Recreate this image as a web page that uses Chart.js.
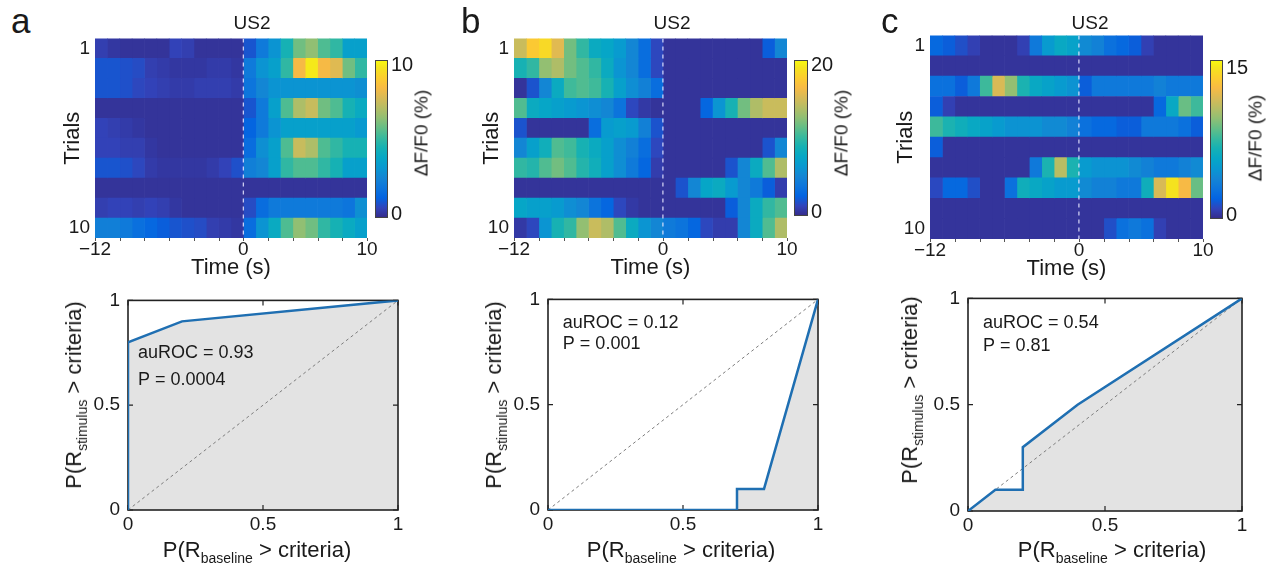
<!DOCTYPE html>
<html>
<head>
<meta charset="utf-8">
<script src="https://cdn.jsdelivr.net/npm/chart.js@4.4.0/dist/chart.umd.min.js"></script>
<style>
  body { margin: 0; background: #fff; font-family: "Liberation Sans", Arial, Helvetica, sans-serif; color: #1a1a1a; }
  #fig { position: relative; width: 1266px; height: 564px; overflow: hidden; }
  .t { position: absolute; line-height: 1; white-space: nowrap; }
  .mid { transform: translate(-50%, -50%); }
  .rot { transform: translate(-50%, -50%) rotate(-90deg); }
  .letter { font-size: 35px; }
  sub { font-size: 14px; vertical-align: -6px; line-height: 0; }
</style>
</head>
<body>
<div id="fig"></div>
<script>
// ---- data ----
const trialLabels = ["1", "2", "3", "4", "5", "6", "7", "8", "9", "10"];
const binStarts = [-12, -11, -10, -9, -8, -7, -6, -5, -4, -3, -2, -1, 0, 1, 2, 3, 4, 5, 6, 7, 8, 9];
const timeTicks = [-12, -10, -8, -6, -4, -2, 0, 2, 4, 6, 8, 10];
const timeLabeled = [-12, 0, 10];

// dF/F0 (%) per trial, 1 s bins from -12 to 10 s
const dffA = [
  [0.3, 0.1, 0, 0, 0, 0, 0.4, 0.3, 0, 0, 0, 0, 0.8, 2, 3, 4.5, 6, 6.5, 5.5, 5, 3.5, 3.5],
  [0.8, 0.8, 0.7, 0.6, 0.3, 0.2, 0.1, 0.1, 0.1, 0.2, 0.2, 0.1, 2, 3, 3.5, 5, 8.5, 10, 8.5, 8, 6, 5],
  [0.8, 0.8, 0.7, 0.5, 0.4, 0.3, 0.2, 0.2, 0.3, 0.3, 0.3, 0.2, 1.8, 2.5, 3, 3, 3, 3, 3, 3, 3, 2.8],
  [0, 0, 0, 0, 0, 0, 0, 0, 0, 0, 0, 0, 0.8, 2, 3.5, 5.5, 7, 7.5, 6, 5.5, 4.5, 4],
  [0.4, 0.3, 0.2, 0.1, 0, 0, 0, 0, 0, 0, 0, 0, 1.2, 2, 3, 3.5, 3.5, 3.5, 3.5, 3.5, 3.5, 3.2],
  [0.4, 0.4, 0.3, 0.3, 0.1, 0, 0, 0, 0, 0, 0, 0, 1.5, 2.8, 3.5, 5.5, 7.5, 7, 5.5, 5, 4.5, 4.5],
  [0.8, 0.8, 0.7, 0.5, 0.2, 0.1, 0.1, 0.1, 0.1, 0.2, 0.4, 0.7, 2.2, 2.5, 3.5, 5, 5.5, 5.5, 5, 4.5, 3.5, 3.5],
  [0, 0, 0, 0, 0, 0, 0, 0, 0, 0, 0, 0, 0, 0, 0, 0, 0, 0, 0, 0, 0, 0],
  [0.3, 0.4, 0.4, 0.3, 0.4, 0.3, 0.1, 0, 0, 0, 0, 0, 0.6, 1.5, 2, 2, 2, 2, 2, 2, 1.8, 2.8],
  [2.2, 2.2, 2, 1.6, 1.3, 1, 0.8, 0.7, 0.6, 0.3, 0.2, 0.1, 1.5, 3, 4, 5.5, 6.5, 6, 5, 4.5, 4, 3.5],
];
const dffB = [
  [15, 18, 19, 16, 12, 10, 8, 7.5, 6.5, 5, 3, 1, 0, 0, 0, 0, 0, 0, 0, 0, 2, 5],
  [9, 10, 13, 14, 12, 11, 10, 8, 6, 5, 3, 1, 0, 0, 0, 0, 0, 0, 0, 0, 0, 0],
  [0, 1.5, 5, 8, 10.5, 11, 10.5, 9, 7, 5.5, 4.5, 3, 0, 0, 0, 0, 0, 0, 0, 0, 0, 0],
  [11, 8, 7.5, 7, 6.5, 6, 5.5, 5, 3.5, 1, 0.3, 0, 0, 0, 0, 2.5, 6, 9, 12, 14, 15, 15],
  [1.5, 0, 0, 0, 0, 0, 3, 6.5, 7, 6.5, 4.5, 1.5, 0, 0, 0, 0, 0, 0, 0, 0, 0, 0],
  [5, 7, 8.5, 11, 10.5, 9, 8, 7, 5.5, 4.5, 3, 1, 0, 0, 0, 0, 0, 0, 0, 0, 1.5, 5],
  [10, 9.5, 11, 12, 11, 9.5, 8.5, 7, 5.5, 4, 2.5, 0.5, 0, 0, 0, 0, 0, 1.5, 5, 8, 11, 14],
  [0, 0, 0, 0, 0, 0, 0, 0, 0, 0, 0, 0, 0, 1.5, 5, 7.5, 8, 6.5, 5, 4, 2, 0.5],
  [7.5, 7, 7, 6.5, 5.5, 5, 3.5, 2.5, 1, 0.3, 0, 0, 0, 0, 0, 0, 0, 2, 5, 8, 10, 11],
  [0.3, 1, 6, 9, 10, 13, 15, 14, 11, 8, 6, 5, 4, 3.5, 2.5, 1, 0.5, 0.5, 5, 8, 11, 14],
];
const dffC = [
  [2, 1.5, 1, 0.5, 0, 0, 0, 0.5, 3, 5, 6, 5.5, 4, 3.5, 2.5, 2, 1.5, 0.5, 0, 0, 0, 0],
  [0, 0, 0, 0, 0, 0, 0, 0, 0, 0, 0, 0, 0, 0, 0, 0, 0, 0, 0, 0, 0, 0],
  [2.5, 2.5, 1.5, 3, 8, 12, 10, 7, 6, 5.5, 5, 4.5, 1.5, 3, 3, 3, 3, 3, 3.5, 3, 3, 3],
  [1.5, 0.5, 0, 0, 0, 0, 0, 0, 0, 0, 0, 0, 0, 0, 0, 0, 0, 0, 2, 6, 9, 8],
  [8, 7, 6.5, 6, 5.5, 5, 4.5, 4.5, 4.5, 4, 4, 3.5, 2.5, 2, 2, 1.5, 1.5, 3, 3, 3, 2.5, 1.5],
  [1.5, 0, 0, 0, 0, 0, 0, 0, 0, 0, 0, 0, 0, 0, 0, 0, 0, 0, 0, 0, 0, 0],
  [0, 0, 0, 0, 0, 0, 0, 0, 3, 7, 11, 7, 5, 4.5, 4.5, 4.5, 4, 3.5, 3, 3, 3.5, 4],
  [0.8, 2, 2, 1, 0, 0, 2.5, 6.5, 6, 5.5, 5, 5, 4, 3.5, 3.5, 3, 3, 6.5, 12, 15, 13, 9],
  [0, 0, 0, 0, 0, 0, 0, 0, 0, 0, 0, 0, 0, 0, 0, 0, 0, 0, 0, 0, 0, 0],
  [0, 0, 0, 0, 0, 0, 0, 0, 0, 0, 0, 0, 0, 0, 1, 2.5, 3, 2.5, 0.5, 0, 0, 0],
];

// colour limits and colorbar ticks
const climA = [-0.25, 10.4], cbTicksA = [0, 10];
const climB = [-0.5, 20.7], cbTicksB = [0, 20];
const climC = [-0.4, 15.9], cbTicksC = [0, 15];

// ROC curves
const rocAx = [0, 0, 0.2, 1], rocAy = [0, 0.8, 0.9, 1];
const rocBx = [0, 0.7, 0.7, 0.8, 1], rocBy = [0, 0, 0.1, 0.1, 1];
const rocCx = [0, 0.1, 0.2, 0.2, 0.4, 1], rocCy = [0, 0.1, 0.1, 0.3, 0.5, 1];
const chanceX = [0, 1], chanceY = [0, 1];
const rocTicks = [0, 0.5, 1];
const statsA = ["auROC = 0.93", "P = 0.0004"];
const statsB = ["auROC = 0.12", "P = 0.001"];
const statsC = ["auROC = 0.54", "P = 0.81"];

// ---- parula colormap ----
const parulaPos = [0, 4, 8, 12, 16, 20, 24, 28, 32, 36, 40, 44, 48, 52, 56, 60, 63].map((i) => i / 63);
const parulaRGB = [
  [0.2081, 0.1663, 0.5292], [0.1959, 0.2645, 0.7279], [0.0117, 0.3875, 0.882], [0.0498, 0.4586, 0.8641],
  [0.0793, 0.52, 0.8312], [0.0343, 0.5966, 0.8199], [0.0228, 0.6535, 0.7768], [0.0843, 0.6928, 0.7062],
  [0.2178, 0.725, 0.6193], [0.3953, 0.7459, 0.5244], [0.5709, 0.7485, 0.4494], [0.7184, 0.7411, 0.3905],
  [0.8507, 0.7299, 0.336], [0.9739, 0.7314, 0.2666], [0.988, 0.8066, 0.1794], [0.9589, 0.8949, 0.1132],
  [0.9763, 0.9831, 0.0538],
];
function rgb(c) {
  return "rgb(" + c.map((v) => Math.round(v * 255)).join(",") + ")";
}
function parula(v, clim) {
  let p = (v - clim[0]) / (clim[1] - clim[0]);
  p = Math.max(0, Math.min(1, p));
  let k = 0;
  while (k < parulaPos.length - 2 && p > parulaPos[k + 1]) k++;
  const f = (p - parulaPos[k]) / (parulaPos[k + 1] - parulaPos[k]);
  return rgb(parulaRGB[k].map((a, i) => a + (parulaRGB[k + 1][i] - a) * f));
}

Chart.defaults.font.family = '"Liberation Sans", Arial, Helvetica, sans-serif';
Chart.defaults.color = "#1a1a1a";

const fig = document.getElementById("fig");

function addCanvas(area, m) {
  const c = document.createElement("canvas");
  const w = area.r - area.l + m.left + m.right;
  const h = area.b - area.t + m.top + m.bottom;
  c.width = w;
  c.height = h;
  c.style.cssText = `position:absolute;left:${area.l - m.left}px;top:${area.t - m.top}px;width:${w}px;height:${h}px`;
  fig.appendChild(c);
  return c;
}

function addText(html, x, y, cls, size) {
  const d = document.createElement("div");
  d.className = "t " + cls;
  d.innerHTML = html;
  d.style.left = x + "px";
  d.style.top = y + "px";
  if (size) {
    d.style.fontSize = size + "px";
    d.style.height = size + "px";
  }
  fig.appendChild(d);
}

// dashed line at t = 0 and small bottom ticks
const heatDecor = {
  id: "heatDecor",
  afterDatasetsDraw(chart) {
    const { ctx, chartArea, scales } = chart;
    const x0 = scales.x.getPixelForValue(0);
    ctx.save();
    ctx.strokeStyle = "rgba(230,230,255,0.85)";
    ctx.lineWidth = 1.3;
    ctx.setLineDash([4, 4]);
    ctx.beginPath();
    ctx.moveTo(x0, chartArea.top);
    ctx.lineTo(x0, chartArea.bottom);
    ctx.stroke();
    ctx.setLineDash([]);
    ctx.strokeStyle = "#555";
    ctx.lineWidth = 1;
    timeTicks.forEach((t) => {
      const x = Math.round(scales.x.getPixelForValue(t)) + 0.5;
      ctx.beginPath();
      ctx.moveTo(x, chartArea.bottom);
      ctx.lineTo(x, chartArea.bottom + 3);
      ctx.stroke();
    });
    ctx.restore();
  },
};

function heatChart(area, dff, clim, trialsPad) {
  const m = { left: 50, top: 15, right: 20, bottom: 45 };
  const canvas = addCanvas(area, m);
  const datasets = binStarts.map((t0, j) => ({
    data: trialLabels.map(() => [t0, t0 + 1]),
    backgroundColor: dff.map((row) => parula(row[j], clim)),
    borderWidth: 0,
    barPercentage: 1,
    categoryPercentage: 1,
    grouped: false,
  }));
  new Chart(canvas, {
    type: "bar",
    data: { labels: trialLabels, datasets },
    options: {
      indexAxis: "y",
      responsive: false,
      animation: false,
      layout: { padding: { top: m.top, right: m.right, left: 0, bottom: 0 } },
      plugins: { legend: { display: false }, tooltip: { enabled: false } },
      scales: {
        x: {
          type: "linear",
          min: -12,
          max: 10,
          grid: { display: false, drawTicks: false },
          border: { display: false },
          afterBuildTicks: (s) => {
            s.ticks = timeTicks.map((v) => ({ value: v }));
          },
          ticks: {
            autoSkip: false,
            maxRotation: 0,
            padding: 0,
            font: { size: 19 },
            callback: (v) => (timeLabeled.includes(v) ? String(v).replace("-", "\u2212") : ""),
          },
          title: { display: true, text: "Time (s)", font: { size: 22 }, padding: { top: 0, bottom: 2 } },
          afterFit: (s) => {
            s.height = m.bottom;
          },
        },
        y: {
          grid: { display: false, drawTicks: false },
          border: { display: false },
          ticks: {
            autoSkip: false,
            padding: 5,
            font: { size: 19 },
            callback: (v, i) => (i === 0 || i === trialLabels.length - 1 ? trialLabels[i] : ""),
          },
          title: { display: true, text: "Trials", font: { size: 22 }, padding: { top: trialsPad, bottom: 0 } },
          afterFit: (s) => {
            s.width = m.left;
          },
        },
      },
    },
    plugins: [heatDecor],
  });
}

function colorbarChart(area, clim, ticks) {
  const m = { left: 0, top: 12, right: 35, bottom: 12 };
  const canvas = addCanvas(area, m);
  new Chart(canvas, {
    type: "scatter",
    data: { datasets: [] },
    options: {
      responsive: false,
      animation: false,
      layout: { padding: { top: m.top, bottom: m.bottom, left: 0, right: 0 } },
      plugins: { legend: { display: false }, tooltip: { enabled: false } },
      scales: {
        x: { display: false, min: 0, max: 1 },
        y: {
          position: "right",
          min: clim[0],
          max: clim[1],
          grid: { display: false, drawTicks: false },
          border: { display: false },
          afterBuildTicks: (s) => {
            s.ticks = ticks.map((v) => ({ value: v }));
          },
          ticks: { padding: 3, font: { size: 20 } },
          afterFit: (s) => {
            s.width = m.right;
          },
        },
      },
    },
    plugins: [
      {
        id: "cbar",
        beforeDatasetsDraw(chart) {
          const { ctx, chartArea: a } = chart;
          const g = ctx.createLinearGradient(0, a.bottom, 0, a.top);
          parulaPos.forEach((p, i) => g.addColorStop(p, rgb(parulaRGB[i])));
          ctx.save();
          ctx.fillStyle = g;
          ctx.fillRect(a.left, a.top, a.right - a.left, a.bottom - a.top);
          ctx.strokeStyle = "#444";
          ctx.lineWidth = 1;
          ctx.strokeRect(a.left + 0.5, a.top + 0.5, a.right - a.left - 1, a.bottom - a.top - 1);
          ctx.restore();
        },
      },
    ],
  });
}

function rocChart(area, xs, ys, stats, statsPos) {
  const m = { left: 45, top: 15, right: 20, bottom: 30 };
  const canvas = addCanvas(area, m);
  const axisCommon = {
    type: "linear",
    min: 0,
    max: 1,
    grid: { display: false, drawTicks: false },
    border: { display: false },
    afterBuildTicks: (s) => {
      s.ticks = rocTicks.map((v) => ({ value: v }));
    },
  };
  new Chart(canvas, {
    type: "scatter",
    data: {
      datasets: [
        {
          data: xs.map((x, i) => ({ x, y: ys[i] })),
          showLine: true,
          borderColor: "#1f6fb2",
          borderWidth: 2.5,
          pointRadius: 0,
          fill: "origin",
          backgroundColor: "#e3e3e3",
          order: 1,
        },
        {
          data: chanceX.map((x, i) => ({ x, y: chanceY[i] })),
          showLine: true,
          borderColor: "#7d7d7d",
          borderWidth: 1,
          borderDash: [3, 3],
          pointRadius: 0,
          fill: false,
          order: 2,
        },
      ],
    },
    options: {
      responsive: false,
      animation: false,
      layout: { padding: { top: m.top, right: m.right, left: 0, bottom: 0 } },
      plugins: {
        legend: { display: false },
        tooltip: { enabled: false },
        filler: { drawTime: "beforeDatasetsDraw" },
      },
      scales: {
        x: Object.assign({}, axisCommon, {
          ticks: { padding: 3, font: { size: 19 }, maxRotation: 0, callback: (v) => String(v) },
          afterFit: (s) => {
            s.height = m.bottom;
          },
        }),
        y: Object.assign({}, axisCommon, {
          ticks: { padding: 8, font: { size: 19 }, callback: (v) => String(v) },
          afterFit: (s) => {
            s.width = m.left;
          },
        }),
      },
    },
    plugins: [
      {
        id: "rocDecor",
        beforeDatasetsDraw(chart) {
          const { ctx, chartArea: a, scales } = chart;
          ctx.save();
          ctx.strokeStyle = "#222";
          ctx.lineWidth = 1.6;
          ctx.strokeRect(a.left, a.top, a.right - a.left, a.bottom - a.top);
          ctx.lineWidth = 1.2;
          rocTicks.forEach((v) => {
            const x = scales.x.getPixelForValue(v);
            const y = scales.y.getPixelForValue(v);
            ctx.beginPath();
            ctx.moveTo(x, a.bottom);
            ctx.lineTo(x, a.bottom - 5);
            ctx.moveTo(x, a.top);
            ctx.lineTo(x, a.top + 5);
            ctx.moveTo(a.left, y);
            ctx.lineTo(a.left + 5, y);
            ctx.moveTo(a.right, y);
            ctx.lineTo(a.right - 5, y);
            ctx.stroke();
          });
          ctx.restore();
        },
        afterDatasetsDraw(chart) {
          const { ctx, scales } = chart;
          ctx.save();
          ctx.fillStyle = "#1a1a1a";
          ctx.font = '18px "Liberation Sans", Arial, sans-serif';
          ctx.textBaseline = "middle";
          stats.forEach((s, i) => {
            ctx.fillText(s, scales.x.getPixelForValue(statsPos[0]), scales.y.getPixelForValue(statsPos[1][i]));
          });
          ctx.restore();
        },
      },
    ],
  });
}

// ---- layout of the three panels ----
const panels = [
  {
    letter: "a", letterX: 11, titleX: 252, dff: dffA, clim: climA, cbTicks: cbTicksA,
    heat: { l: 95, t: 37, r: 367, b: 238 }, trialsPad: 15,
    bar: { l: 375, t: 57, r: 388, b: 221 }, barLab: [421, 133],
    roc: { l: 128, t: 296, r: 398, b: 510 }, rx: rocAx, ry: rocAy, stats: statsA, statsPos: [0.037, [0.75, 0.62]],
    xlab: [257, 550], ylab: [74, 395],
  },
  {
    letter: "b", letterX: 461, titleX: 672, dff: dffB, clim: climB, cbTicks: cbTicksB,
    heat: { l: 514, t: 37, r: 787, b: 238 }, trialsPad: 15,
    bar: { l: 794, t: 57, r: 808, b: 219 }, barLab: [841, 133],
    roc: { l: 548, t: 295, r: 818, b: 510 }, rx: rocBx, ry: rocBy, stats: statsB, statsPos: [0.055, [0.89, 0.79]],
    xlab: [681, 550], ylab: [494, 395],
  },
  {
    letter: "c", letterX: 881, titleX: 1090, dff: dffC, clim: climC, cbTicks: cbTicksC,
    heat: { l: 930, t: 34, r: 1203, b: 239 }, trialsPad: 13,
    bar: { l: 1210, t: 57, r: 1223, b: 222 }, barLab: [1255, 138],
    roc: { l: 968, t: 294, r: 1242, b: 511 }, rx: rocCx, ry: rocCy, stats: statsC, statsPos: [0.055, [0.885, 0.777]],
    xlab: [1112, 550], ylab: [910, 390],
  },
];

panels.forEach((p) => {
  heatChart(p.heat, p.dff, p.clim, p.trialsPad);
  colorbarChart(p.bar, p.clim, p.cbTicks);
  rocChart(p.roc, p.rx, p.ry, p.stats, p.statsPos);
  addText(p.letter, p.letterX, 3, "letter");
  addText("US2", p.titleX, 21.5, "mid", 19);
  addText("\u0394F/F0 (%)", p.barLab[0], p.barLab[1], "rot", 19);
  addText("P(R<sub>baseline</sub> &gt; criteria)", p.xlab[0], p.xlab[1], "mid", 22);
  addText("P(R<sub>stimulus</sub> &gt; criteria)", p.ylab[0], p.ylab[1], "rot", 22);
});
</script>
</body>
</html>
